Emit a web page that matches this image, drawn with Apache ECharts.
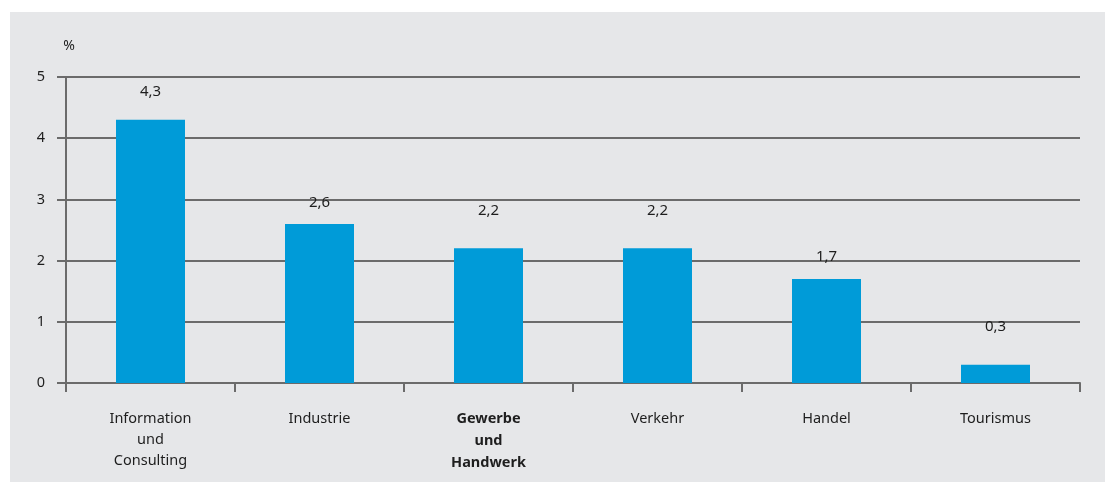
<!DOCTYPE html>
<html>
<head>
<meta charset="utf-8">
<script src="https://cdn.jsdelivr.net/npm/echarts@6/dist/echarts.min.js"></script>
<style>
  html, body { margin: 0; padding: 0; background: #ffffff; }
  #chart { width: 1105px; height: 482px; }
</style>
</head>
<body>
<div id="chart"></div>
<script>
// Branchen und Werte (%)
var categories = ['Information\nund\nConsulting', 'Industrie', 'Gewerbe\nund\nHandwerk', 'Verkehr', 'Handel', 'Tourismus'];
var values = [4.3, 2.6, 2.2, 2.2, 1.7, 0.3];
var boldCategory = 'Gewerbe\nund\nHandwerk';
var yTicks = [0, 1, 2, 3, 4, 5];

// Abstand der Wertbeschriftung über dem Balken (wie im Original unregelmäßig)
var labelGap = [21, 14, 30, 30, 15, 30];

var lineColor = '#6b6b6b';
var textColor = '#1e1e1e';
var fontFam = 'Noto Sans';

var chart = echarts.init(document.getElementById('chart'));

var xData = categories.map(function (c) {
    if (c === boldCategory) {
        return { value: c, textStyle: { fontWeight: 'bold', lineHeight: 22 } };
    }
    return c;
});

var barData = values.map(function (v, i) {
    return { value: v, label: { distance: labelGap[i] } };
});

var option = {
    animation: false,
    backgroundColor: '#ffffff',
    graphic: [{
        type: 'rect',
        z: -10,
        shape: { x: 10, y: 12, width: 1095, height: 470 },
        style: { fill: '#e6e7e9' }
    }],
    grid: { left: 66, right: 25, top: 77, bottom: 99 },
    xAxis: {
        type: 'category',
        data: xData,
        axisLine: { lineStyle: { color: lineColor, width: 2 } },
        axisTick: { show: true, interval: 0, length: 9, lineStyle: { color: lineColor, width: 2 } },
        axisLabel: {
            interval: 0,
            margin: 25,
            color: textColor,
            fontFamily: fontFam,
            fontSize: 14.5,
            lineHeight: 21
        }
    },
    yAxis: {
        type: 'value',
        min: yTicks[0],
        max: yTicks[yTicks.length - 1],
        interval: 1,
        name: '%',
        nameLocation: 'end',
        nameGap: 24,
        nameTextStyle: { color: textColor, fontFamily: fontFam, fontSize: 14, padding: [0, 0, 0, 6] },
        axisLine: { show: true, lineStyle: { color: lineColor, width: 2 } },
        axisTick: { show: true, length: 9, lineStyle: { color: lineColor, width: 2 } },
        axisLabel: { margin: 21, color: textColor, fontFamily: fontFam, fontSize: 14.5 },
        splitLine: { show: true, lineStyle: { color: lineColor, width: 2 } }
    },
    series: [{
        type: 'bar',
        data: barData,
        barWidth: 69,
        itemStyle: { color: '#009bd8' },
        label: {
            show: true,
            position: 'top',
            color: textColor,
            fontFamily: fontFam,
            fontSize: 15,
            formatter: function (p) { return String(p.value).replace('.', ','); }
        }
    }]
};

chart.setOption(option);
</script>
</body>
</html>
